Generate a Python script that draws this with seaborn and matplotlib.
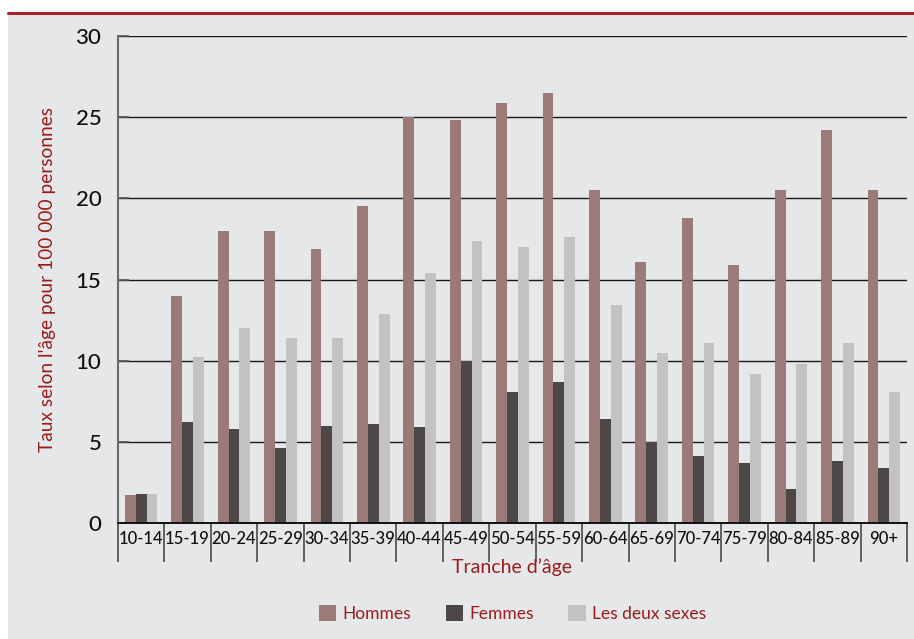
import matplotlib
matplotlib.use("Agg")
import matplotlib.pyplot as plt
from matplotlib.patches import Rectangle
from matplotlib.lines import Line2D
import numpy as np
import pandas as pd
import seaborn as sns

categories = ["10-14", "15-19", "20-24", "25-29", "30-34", "35-39", "40-44", "45-49",
              "50-54", "55-59", "60-64", "65-69", "70-74", "75-79", "80-84", "85-89", "90+"]
hommes = [1.7, 14.0, 18.0, 18.0, 16.9, 19.5, 25.0, 24.8, 25.9, 26.5, 20.5, 16.1, 18.8, 15.9, 20.5, 24.2, 20.5]
femmes = [1.8, 6.2, 5.8, 4.6, 6.0, 6.1, 5.9, 10.0, 8.1, 8.7, 6.4, 5.0, 4.1, 3.7, 2.1, 3.8, 3.4]
deux_sexes = [1.8, 10.2, 12.0, 11.4, 11.4, 12.9, 15.4, 17.4, 17.0, 17.6, 13.4, 10.5, 11.1, 9.2, 9.8, 11.1, 8.1]
series_names = ["Hommes", "Femmes", "Les deux sexes"]
y_ticks = [0, 5, 10, 15, 20, 25, 30]

colors = ["#9c7a78", "#4d4847", "#c2c2c2"]
bg = "#e6e7e9"
red = "#9b1c1c"

df = pd.DataFrame({
    "Tranche": categories * 3,
    "Taux": hommes + femmes + deux_sexes,
    "Sexe": [series_names[0]] * len(categories) + [series_names[1]] * len(categories)
            + [series_names[2]] * len(categories),
})

sns.set_theme(style="white")
plt.rcParams["font.family"] = ["Lato", "DejaVu Sans"]

fig = plt.figure(figsize=(9.14, 6.39), dpi=100)
fig.patch.set_facecolor("white")
# panel background and red top rule
fig.patches.append(Rectangle((8 / 914, 0), 1, (639 - 14) / 639, transform=fig.transFigure,
                             facecolor=bg, edgecolor="none", zorder=-10))
fig.lines.append(Line2D([8 / 914, 1], [(639 - 13) / 639] * 2, transform=fig.transFigure,
                        color="#a3262a", lw=2.2))

ax = fig.add_axes([118 / 914, (639 - 523) / 639, (907 - 118) / 914, (523 - 36) / 639])
ax.set_facecolor(bg)

sns.barplot(data=df, x="Tranche", y="Taux", hue="Sexe", order=categories,
            hue_order=series_names, palette=colors, width=0.7, gap=0,
            saturation=1, linewidth=0, ax=ax, legend=True)

ax.set_ylim(0, 30)
ax.set_xlim(-0.5, len(categories) - 0.5)
ax.set_yticks(y_ticks)
ax.set_yticklabels([str(v) for v in y_ticks], fontsize=16, color="#111111", fontweight="medium")
for v in y_ticks[1:]:
    ax.axhline(v, color="#1a1a1a", lw=1.0, zorder=0)

# category separators below the axis
ax.set_xticks(np.arange(len(categories)))
ax.set_xticklabels(categories, fontsize=12, color="#111111", fontweight="medium")
ax.tick_params(axis="x", which="major", length=0, pad=6, bottom=True)
ax.set_xticks(np.arange(-0.5, len(categories) - 0.4, 1.0), minor=True)
ax.tick_params(axis="x", which="minor", length=28, width=1.3, color="#555555",
               direction="out", bottom=True, labelbottom=False)
ax.tick_params(axis="y", which="major", length=8, width=1.2, color="#555555",
               direction="in", pad=12, left=True)

for side in ["top", "right"]:
    ax.spines[side].set_visible(False)
ax.spines["left"].set_color("#6a6a6a")
ax.spines["left"].set_linewidth(1.5)
ax.spines["bottom"].set_color("#111111")
ax.spines["bottom"].set_linewidth(1.4)

ax.set_xlabel("Tranche d\u2019\u00e2ge", fontsize=14, color=red, labelpad=-2.5)
ax.set_ylabel("Taux selon l'\u00e2ge pour 100 000 personnes", fontsize=13.8, color=red, labelpad=14)

handles, labels = ax.get_legend_handles_labels()
ax.legend(handles, labels, loc="center", bbox_to_anchor=(0.5, -0.186), ncol=3,
          frameon=False, fontsize=12.5, handlelength=1.0, handleheight=1.0,
          handletextpad=0.35, columnspacing=2.0, labelcolor=red)

fig.savefig("out.png", dpi=100, facecolor="white")
